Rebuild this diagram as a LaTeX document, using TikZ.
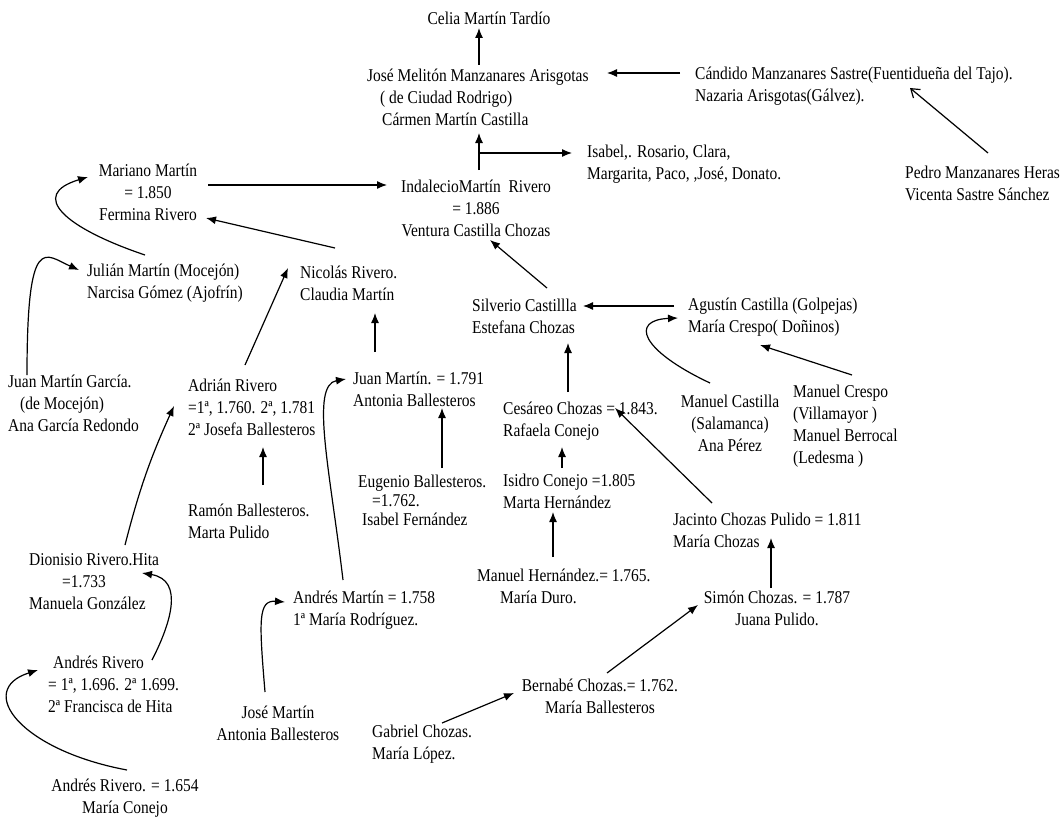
\documentclass[tikz,border=0pt]{standalone}
\usepackage{fontspec}
\setmainfont{Liberation Serif}[FakeStretch=0.86]
\usetikzlibrary{arrows.meta,calc}

\begin{document}
\begin{tikzpicture}[x=1pt,y=1pt,
  every node/.style={inner sep=0pt,font=\fontsize{18}{22}\selectfont},
  lft/.style={anchor=west,align=left},
  ctr/.style={align=center},
  arr/.style={line width=1.2pt,-{Latex[length=10pt,width=8pt]}},
  barb/.style={line width=1.2pt,-{Straight Barb[length=8pt,width=11pt]}}]
\useasboundingbox (0,0) rectangle (1064,-832);
\node[ctr] (celia) at (489,-18) {Celia Martín Tardío};
\node[lft] (jose) at (367,-97) {José Melitón Manzanares Arisgotas\\\hspace*{13pt}( de Ciudad Rodrigo)\\\hspace*{15pt}Cármen Martín Castilla};
\node[lft] (candido) at (695,-86) {Cándido Manzanares Sastre(Fuentidueña del Tajo).\\Nazaria Arisgotas(Gálvez).};
\node[lft] (pedro) at (905,-183) {Pedro Manzanares Heras\\Vicenta Sastre Sánchez};
\node[lft] (isabel) at (587,-164) {Isabel,. Rosario, Clara,\\Margarita, Paco, ,José, Donato.};
\node[ctr] (mariano) at (148,-192) {Mariano Martín\\= 1.850\\Fermina Rivero};
\node[ctr] (indalecio) at (476,-208) {IndalecioMartín\ \ Rivero\\= 1.886\\Ventura Castilla Chozas};
\node[lft] (julian) at (87,-283) {Julián Martín (Mocejón)\\Narcisa Gómez (Ajofrín)};
\node[lft] (nicolas) at (300,-283) {Nicolás Rivero.\\Claudia Martín};
\node[lft] (silverio) at (472,-316) {Silverio Castillla\\Estefana Chozas};
\node[lft] (agustin) at (688,-317) {Agustín Castilla (Golpejas)\\María Crespo( Doñinos)};
\node[lft] (juangarcia) at (8,-403) {Juan Martín García.\\\hspace*{12pt}(de Mocejón)\\Ana García Redondo};
\node[lft] (adrian) at (188,-407) {Adrián Rivero\\=1ª, 1.760. 2ª, 1.781\\2ª Josefa Ballesteros};
\node[lft] (ramon) at (188,-521) {Ramón Ballesteros.\\Marta Pulido};
\node[lft] (juanmartin) at (353,-389) {Juan Martín. = 1.791\\Antonia Ballesteros};
\node[lft,font=\fontsize{18}{19}\selectfont] (eugenio) at (358,-500) {Eugenio Ballesteros.\\\hspace*{14pt}=1.762.\\\hspace*{4pt}Isabel Fernández};
\node[lft] (cesareo) at (503,-421) {Cesáreo Chozas = 1.843.\\Rafaela Conejo};
\node[lft] (isidro) at (503,-491) {Isidro Conejo =1.805\\Marta Hernández};
\node[ctr] (mcastilla) at (730,-423) {Manuel Castilla\\(Salamanca)\\Ana Pérez};
\node[lft] (mcrespo) at (793,-426) {Manuel Crespo\\(Villamayor )\\Manuel Berrocal\\(Ledesma )};
\node[lft] (jacinto) at (673,-530) {Jacinto Chozas Pulido = 1.811\\María Chozas};
\node[lft] (dionisio) at (29,-582) {Dionisio Rivero.Hita\\\hspace*{33pt}=1.733\\Manuela González};
\node[lft] (mhernandez) at (477,-586) {Manuel Hernández.= 1.765.\\\hspace*{23pt}María Duro.};
\node[lft] (andresmartin) at (293,-610) {Andrés Martín = 1.758\\1ª María Rodríguez.};
\node[ctr] (simon) at (777,-608) {Simón Chozas. = 1.787\\Juana Pulido.};
\node[lft] (andresrivero) at (48,-684) {\hspace*{5pt}Andrés Rivero\\= 1ª, 1.696. 2ª 1.699.\\2ª Francisca de Hita};
\node[ctr] (bernabe) at (600,-696) {Bernabé Chozas.= 1.762.\\María Ballesteros};
\node[ctr] (josemartin) at (278,-723) {José Martín\\Antonia Ballesteros};
\node[lft] (gabriel) at (372,-744) {Gabriel Chozas.\\María López.};
\node[ctr] (andresviejo) at (125,-798) {Andrés Rivero. = 1.654\\María Conejo};
\draw[arr] ($(jose.west)+(112,32)$) -- ($(celia.center)+(-10,-10)$);
\draw[arr] ($(candido.west)+(-15,13)$) -- ($(jose.west)+(240,24)$);
\draw[barb] ($(pedro.west)+(83,30)$) -- ($(candido.west)+(215,-2)$);
\draw[arr] ($(indalecio.center)+(3,38)$) -- ($(jose.west)+(112,-36)$);
\draw[arr] ($(indalecio.center)+(3,55)$) -- ($(isabel.west)+(-15,11)$);
\draw[arr] ($(mariano.center)+(60,7)$) -- ($(indalecio.center)+(-89,23)$);
\draw[arr] ($(nicolas.west)+(35,35)$) -- ($(mariano.center)+(58,-26)$);
\draw[arr] ($(julian.west)+(58,28)$) .. controls +(-80,27) and +(-60,-18) .. ($(mariano.center)+(-60,15)$);
\draw[arr] ($(juangarcia.west)+(19,28)$) .. controls +(0,145) and +(-34,15) .. ($(julian.west)+(-8,13)$);
\draw[arr] ($(adrian.west)+(57,42)$) -- ($(nicolas.west)+(-12,15)$);
\draw[arr] ($(ramon.west)+(75,36)$) -- ($(adrian.west)+(75,-40)$);
\draw[arr] ($(dionisio.west)+(96,37)$) to[bend left=5] ($(adrian.west)+(-14,1)$);
\draw[arr] ($(andresrivero.west)+(104,24)$) .. controls +(18,35) and +(43,-7) .. ($(dionisio.west)+(113,9)$);
\draw[arr] ($(andresviejo.center)+(2,28)$) .. controls +(-107,20) and +(-63,-20) .. ($(andresrivero.west)+(-10,14)$);
\draw[arr] ($(josemartin.center)+(-13,31)$) .. controls +(-6,72) and +(-27,2) .. ($(andresmartin.west)+(-8,8)$);
\draw[arr] ($(andresmartin.west)+(50,30)$) .. controls +(-13,110) and +(-36,-6) .. ($(juanmartin.west)+(-7,10)$);
\draw[arr] ($(juanmartin.west)+(22,37)$) -- ($(nicolas.west)+(75,-30)$);
\draw[arr] ($(eugenio.west)+(84,32)$) -- ($(juanmartin.west)+(89,-19)$);
\draw[arr] ($(silverio.west)+(75,28)$) -- ($(indalecio.center)+(14,-32)$);
\draw[arr] ($(agustin.west)+(-14,11)$) -- ($(silverio.west)+(111,10)$);
\draw[arr] ($(mcastilla.center)+(-20,40)$) .. controls +(-70,33) and +(-48,-2) .. ($(agustin.west)+(-10,-1)$);
\draw[arr] ($(mcrespo.west)+(59,51)$) -- ($(agustin.west)+(72,-28)$);
\draw[arr] ($(cesareo.west)+(65,29)$) -- ($(silverio.west)+(96,-27)$);
\draw[arr] ($(isidro.west)+(59,23)$) -- ($(cesareo.west)+(59,-26)$);
\draw[arr] ($(jacinto.west)+(39,27)$) -- ($(cesareo.west)+(112,13)$);
\draw[arr] ($(mhernandez.west)+(76,29)$) -- ($(isidro.west)+(50,-21)$);
\draw[arr] ($(simon.center)+(-6,20)$) -- ($(jacinto.west)+(98,-8)$);
\draw[arr] ($(bernabe.center)+(7,23)$) -- ($(simon.center)+(-79,3)$);
\draw[arr] ($(gabriel.west)+(70,21)$) -- ($(bernabe.center)+(-86,3)$);
\end{tikzpicture}
\end{document}
